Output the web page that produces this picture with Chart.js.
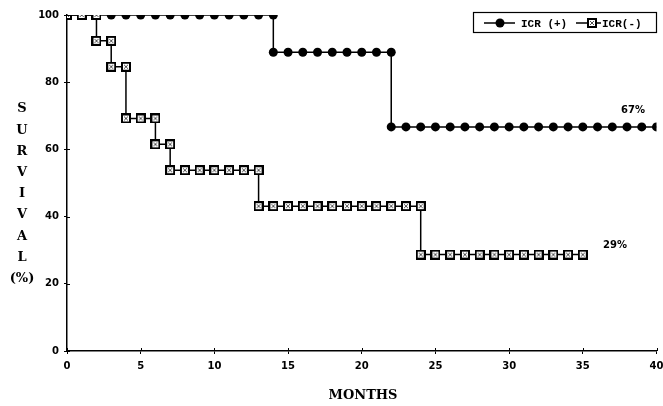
<!DOCTYPE html>
<html>
<head>
<meta charset="utf-8">
<script src="https://cdn.jsdelivr.net/npm/chart.js@4"></script>
<style>
  body { margin: 0; background: #fff; }
</style>
</head>
<body>
<canvas id="survivalChart" width="663" height="406"></canvas>
<script>
'use strict';

// Survival data (months, % surviving)
const icrPosMonths = [
  0, 1, 2, 3, 4, 5, 6, 7, 8, 9, 10, 11, 12, 13, 14,
  14, 15, 16, 17, 18, 19, 20, 21, 22,
  22, 23, 24, 25, 26, 27, 28, 29, 30, 31, 32, 33, 34, 35, 36, 37, 38, 39, 40
];
const icrPosSurvival = [
  100, 100, 100, 100, 100, 100, 100, 100, 100, 100, 100, 100, 100, 100, 100,
  88.9, 88.9, 88.9, 88.9, 88.9, 88.9, 88.9, 88.9, 88.9,
  66.7, 66.7, 66.7, 66.7, 66.7, 66.7, 66.7, 66.7, 66.7, 66.7, 66.7, 66.7, 66.7, 66.7, 66.7, 66.7, 66.7, 66.7, 66.7
];

const icrNegMonths = [
  0, 1, 2,
  2, 3,
  3, 4,
  4, 5, 6,
  6, 7,
  7, 8, 9, 10, 11, 12, 13,
  13, 14, 15, 16, 17, 18, 19, 20, 21, 22, 23, 24,
  24, 25, 26, 27, 28, 29, 30, 31, 32, 33, 34, 35
];
const icrNegSurvival = [
  100, 100, 100,
  92.3, 92.3,
  84.6, 84.6,
  69.2, 69.2, 69.2,
  61.5, 61.5,
  53.8, 53.8, 53.8, 53.8, 53.8, 53.8, 53.8,
  43.1, 43.1, 43.1, 43.1, 43.1, 43.1, 43.1, 43.1, 43.1, 43.1, 43.1, 43.1,
  28.7, 28.7, 28.7, 28.7, 28.7, 28.7, 28.7, 28.7, 28.7, 28.7, 28.7, 28.7
];

const seriesLabels = ['ICR (+)', 'ICR(-)'];
const endLabels = ['67%', '29%'];
const yTitleLetters = ['S', 'U', 'R', 'V', 'I', 'V', 'A', 'L', '(%)'];

// zip months + values into {x, y} points
function toPoints(xs, ys) {
  return xs.map((x, i) => ({ x: x, y: ys[i] }));
}

// square marker with the little hatched white centre
function makeSquareMarker() {
  const c = document.createElement('canvas');
  c.width = 10;
  c.height = 10;
  const g = c.getContext('2d');
  g.fillStyle = '#000';
  g.fillRect(0, 0, 10, 10);
  g.fillStyle = '#fff';
  g.fillRect(2, 2, 6, 6);
  g.strokeStyle = '#555';
  g.lineWidth = 1;
  g.beginPath();
  g.moveTo(3, 3); g.lineTo(7, 7);
  g.moveTo(7, 3); g.lineTo(3, 7);
  g.stroke();
  return c;
}
const squareMarker = makeSquareMarker();

// Legend box, axis titles, end labels and inner tick marks drawn by hand
const extrasPlugin = {
  id: 'extras',
  afterDraw(chart) {
    const ctx = chart.ctx;
    const y = chart.scales.y;
    const x = chart.scales.x;
    const area = chart.chartArea;
    ctx.save();

    // short tick stubs on the inner side of both axes (ticks cross the axis)
    ctx.strokeStyle = '#000';
    ctx.lineWidth = 1;
    ctx.beginPath();
    y.ticks.forEach(t => {
      const py = Math.round(y.getPixelForValue(t.value)) + 0.5;
      ctx.moveTo(area.left, py); ctx.lineTo(area.left + 3, py);
    });
    x.ticks.forEach(t => {
      const px = Math.round(x.getPixelForValue(t.value)) + 0.5;
      ctx.moveTo(px, area.bottom); ctx.lineTo(px, area.bottom - 3);
    });
    ctx.stroke();

    // y title, one letter per line
    ctx.fillStyle = '#000';
    ctx.font = 'bold 13px "DejaVu Serif"';
    ctx.textAlign = 'center';
    ctx.textBaseline = 'middle';
    yTitleLetters.forEach((ch, i) => {
      ctx.fillText(ch, 22, 109 + i * 21.2);
    });

    // x title
    ctx.fillText('MONTHS', 363, 396);

    // end-of-curve labels
    ctx.font = 'bold 10px "DejaVu Sans"';
    ctx.textAlign = 'left';
    ctx.fillText(endLabels[0], 621, y.getPixelForValue(71.5));
    ctx.fillText(endLabels[1], 603, y.getPixelForValue(31.5));

    // legend
    ctx.strokeStyle = '#000';
    ctx.lineWidth = 1.2;
    ctx.strokeRect(473.5, 12.5, 183, 20);
    const ly = 23;
    ctx.lineWidth = 1.5;
    ctx.beginPath();
    ctx.moveTo(484, ly); ctx.lineTo(515, ly);
    ctx.moveTo(576, ly); ctx.lineTo(601, ly);
    ctx.stroke();
    ctx.beginPath();
    ctx.arc(500, ly, 4.5, 0, Math.PI * 2);
    ctx.fill();
    ctx.drawImage(squareMarker, 587, ly - 5);
    ctx.font = 'bold 11px "Liberation Mono"';
    ctx.textBaseline = 'middle';
    ctx.fillText(seriesLabels[0], 521, ly + 1);
    ctx.fillText(seriesLabels[1], 602, ly + 1);

    ctx.restore();
  }
};

const tickFont = { family: '"DejaVu Sans"', size: 10, weight: 'bold' };

const ctx = document.getElementById('survivalChart').getContext('2d');
const survivalChart = new Chart(ctx, {
  type: 'line',
  data: {
    datasets: [
      {
        label: seriesLabels[0],
        data: toPoints(icrPosMonths, icrPosSurvival),
        borderColor: '#000',
        borderWidth: 1.5,
        backgroundColor: '#000',
        pointStyle: 'circle',
        pointRadius: 4.5,
        pointBorderWidth: 0,
        tension: 0,
        order: 2
      },
      {
        label: seriesLabels[1],
        data: toPoints(icrNegMonths, icrNegSurvival),
        borderColor: '#000',
        borderWidth: 1.5,
        backgroundColor: '#000',
        pointStyle: squareMarker,
        pointRadius: 5,
        tension: 0,
        order: 1
      }
    ]
  },
  options: {
    responsive: false,
    animation: false,
    layout: { padding: { left: 0, top: 15, right: 0, bottom: 0 } },
    plugins: {
      legend: { display: false },
      tooltip: { enabled: false }
    },
    scales: {
      x: {
        type: 'linear',
        min: 0,
        max: 40,
        ticks: { stepSize: 5, color: '#000', font: tickFont, padding: 6, maxRotation: 0 },
        grid: { drawOnChartArea: false, drawTicks: true, tickLength: 3, color: '#000' },
        border: { color: '#000', width: 1.5 },
        afterFit(scale) {
          scale.height = 55;
          scale.paddingLeft = 0;
          scale.paddingRight = 0;
        }
      },
      y: {
        min: 0,
        max: 100,
        ticks: { stepSize: 20, color: '#000', font: tickFont, padding: 5 },
        grid: { drawOnChartArea: false, drawTicks: true, tickLength: 3, color: '#000' },
        border: { color: '#000', width: 1.5 },
        afterFit(scale) {
          scale.width = 67;
          scale.paddingTop = 0;
          scale.paddingBottom = 0;
        }
      }
    }
  },
  plugins: [extrasPlugin]
});
</script>
</body>
</html>
